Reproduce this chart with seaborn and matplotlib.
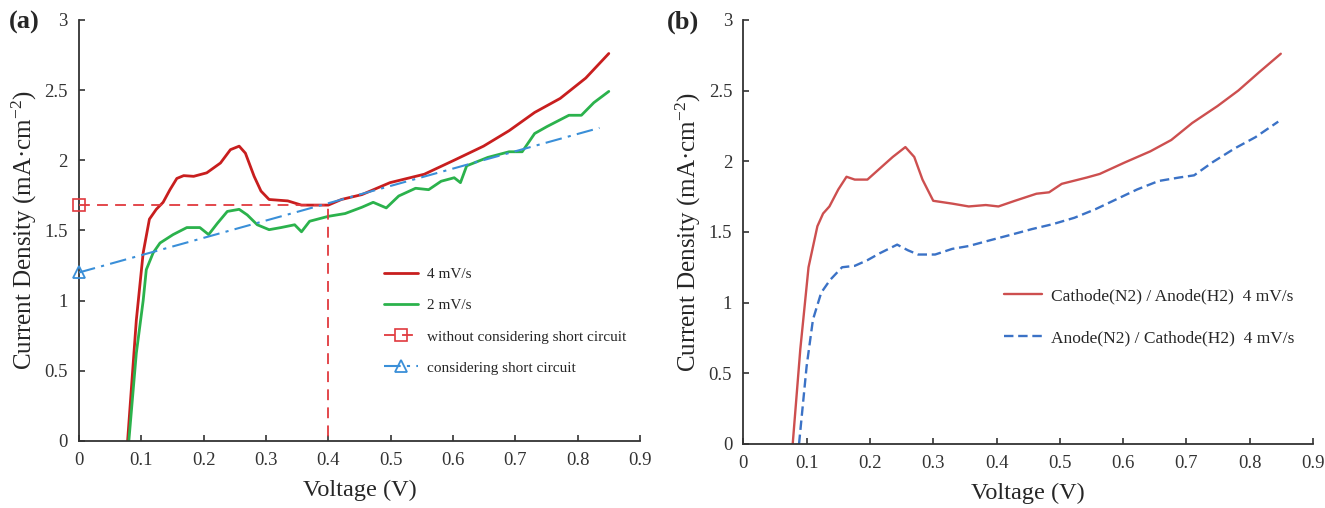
"""
Polarisation curves: (a) scan-rate comparison with short-circuit correction, (b) electrode swap.
"""
import numpy as np
import matplotlib.pyplot as plt
import seaborn as sns
from matplotlib.ticker import FormatStrFormatter, MultipleLocator

sns.set_theme(style="ticks")
plt.rcParams.update({
    'font.family': ['Liberation Serif', 'DejaVu Serif'],
    'mathtext.fontset': 'custom',
    'mathtext.rm': 'Liberation Serif',
    'mathtext.it': 'Liberation Serif',
    'axes.edgecolor': '#333333',
    'axes.linewidth': 1.3,
    'xtick.direction': 'in',
    'ytick.direction': 'in',
    'xtick.color': '#333333',
    'ytick.color': '#333333',
})

# (a) 4 mV/s
a_v4 = [0.078, 0.092, 0.103, 0.113, 0.124, 0.135, 0.146, 0.157, 0.168, 0.184, 0.205, 0.227,
        0.243, 0.257, 0.267, 0.281, 0.292, 0.305, 0.335, 0.357, 0.378, 0.400, 0.421, 0.454,
        0.499, 0.554, 0.602, 0.649, 0.690, 0.731, 0.772, 0.813, 0.850]
a_j4 = [0.0, 0.86, 1.34, 1.58, 1.65, 1.70, 1.79, 1.87, 1.89, 1.885, 1.91, 1.98,
        2.075, 2.10, 2.05, 1.885, 1.78, 1.72, 1.71, 1.68, 1.68, 1.68, 1.72, 1.755,
        1.84, 1.90, 2.00, 2.10, 2.21, 2.34, 2.44, 2.585, 2.76]

# (a) 2 mV/s
a_v2 = [0.080, 0.092, 0.103, 0.108, 0.119, 0.130, 0.151, 0.173, 0.194, 0.208, 0.222, 0.238,
        0.257, 0.270, 0.286, 0.305, 0.324, 0.346, 0.357, 0.370, 0.400, 0.427, 0.454, 0.472,
        0.493, 0.513, 0.540, 0.561, 0.581, 0.602, 0.612, 0.622, 0.656, 0.690, 0.711, 0.731,
        0.751, 0.786, 0.806, 0.826, 0.850]
a_j2 = [0.0, 0.625, 1.0, 1.22, 1.34, 1.41, 1.47, 1.52, 1.52, 1.47, 1.55, 1.635,
        1.65, 1.61, 1.54, 1.505, 1.52, 1.54, 1.49, 1.565, 1.60, 1.62, 1.665, 1.70,
        1.66, 1.745, 1.80, 1.79, 1.85, 1.875, 1.84, 1.96, 2.02, 2.06, 2.06, 2.19,
        2.24, 2.32, 2.32, 2.41, 2.49]

# (a) construction lines
no_sc_v = [0.0, 0.4, 0.4]
no_sc_j = [1.68, 1.68, 0.0]
sc_v = [0.0, 0.835]
sc_j = [1.20, 2.23]

# (b) Cathode(N2) / Anode(H2)
b_v1 = [0.078, 0.090, 0.103, 0.117, 0.126, 0.136, 0.150, 0.163, 0.176, 0.196, 0.216, 0.236,
        0.256, 0.270, 0.283, 0.300, 0.330, 0.356, 0.383, 0.403, 0.429, 0.463, 0.483, 0.503,
        0.543, 0.563, 0.602, 0.643, 0.676, 0.709, 0.749, 0.782, 0.815, 0.849]
b_j1 = [0.0, 0.67, 1.25, 1.54, 1.63, 1.68, 1.80, 1.89, 1.87, 1.87, 1.95, 2.03,
        2.10, 2.03, 1.87, 1.72, 1.70, 1.68, 1.69, 1.68, 1.72, 1.77, 1.78, 1.84,
        1.885, 1.91, 1.99, 2.07, 2.15, 2.27, 2.39, 2.50, 2.63, 2.76]

# (b) Anode(N2) / Cathode(H2)
b_v2 = [0.088, 0.100, 0.110, 0.123, 0.137, 0.156, 0.176, 0.196, 0.216, 0.243, 0.260, 0.276,
        0.303, 0.330, 0.356, 0.389, 0.423, 0.456, 0.489, 0.523, 0.556, 0.589, 0.622, 0.656,
        0.689, 0.712, 0.742, 0.776, 0.809, 0.845]
b_j2 = [0.0, 0.55, 0.88, 1.07, 1.16, 1.25, 1.26, 1.30, 1.35, 1.41, 1.37, 1.34,
        1.34, 1.38, 1.40, 1.44, 1.48, 1.52, 1.555, 1.60, 1.66, 1.73, 1.80, 1.86,
        1.885, 1.90, 1.995, 2.09, 2.17, 2.28]

fig = plt.figure(figsize=(13.25, 5.08), dpi=100)
ax_a = fig.add_axes([0.0596, 0.132, 0.4234, 0.829])
ax_b = fig.add_axes([0.561, 0.126, 0.430, 0.835])

# panel (a)
sns.lineplot(x=a_v4, y=a_j4, ax=ax_a, sort=False, estimator=None, color='#c81e1e',
             linewidth=2.0, label='4 mV/s')
sns.lineplot(x=a_v2, y=a_j2, ax=ax_a, sort=False, estimator=None, color='#2bb24c',
             linewidth=2.0, label='2 mV/s')
ax_a.plot(no_sc_v, no_sc_j, color='#e0393e', linestyle=(0, (6, 4)), linewidth=1.3,
          marker='s', markevery=[0], markersize=9, markerfacecolor='none',
          markeredgewidth=1.2, clip_on=False, zorder=5,
          label='without considering short circuit')
ax_a.plot(sc_v, sc_j, color='#3a8fd8', linestyle=(0, (8, 3, 1.5, 3)), linewidth=1.5,
          marker='^', markevery=[0], markersize=9, markerfacecolor='none',
          markeredgewidth=1.3, clip_on=False, zorder=5,
          label='considering short circuit')

# panel (b)
sns.lineplot(x=b_v1, y=b_j1, ax=ax_b, sort=False, estimator=None, color='#cd4f4f',
             linewidth=1.7, label='Cathode(N2) / Anode(H2)  4 mV/s')
sns.lineplot(x=b_v2, y=b_j2, ax=ax_b, sort=False, estimator=None, color='#3b72c6',
             linewidth=1.7, linestyle=(0, (4, 2)), label='Anode(N2) / Cathode(H2)  4 mV/s')

for ax in (ax_a, ax_b):
    ax.set_xlim(0, 0.9)
    ax.set_ylim(0, 3)
    ax.xaxis.set_major_locator(MultipleLocator(0.1))
    ax.yaxis.set_major_locator(MultipleLocator(0.5))
    ax.xaxis.set_major_formatter(FormatStrFormatter('%g'))
    ax.yaxis.set_major_formatter(FormatStrFormatter('%g'))
    ax.tick_params(labelsize=13.5, length=4, width=1.2, pad=8)
    sns.despine(ax=ax)
    ax.set_xlabel('Voltage (V)', fontsize=17.5, labelpad=8)
    ax.set_ylabel(r'Current Density (mA·cm$^{\mathregular{-2}}$)', fontsize=18, labelpad=4)

ax_a.legend(loc='upper left', bbox_to_anchor=(0.52, 0.445), frameon=False, fontsize=11,
            labelspacing=1.15, handlelength=2.2, handletextpad=0.6)
ax_b.legend(loc='upper left', bbox_to_anchor=(0.43, 0.405), frameon=False, fontsize=12.5,
            labelspacing=1.5, handlelength=2.2, handletextpad=0.5)

fig.text(0.007, 0.943, '(a)', fontsize=19, fontweight='bold')
fig.text(0.503, 0.943, '(b)', fontsize=19, fontweight='bold')

fig.savefig('out.png', dpi=100, facecolor='white')
